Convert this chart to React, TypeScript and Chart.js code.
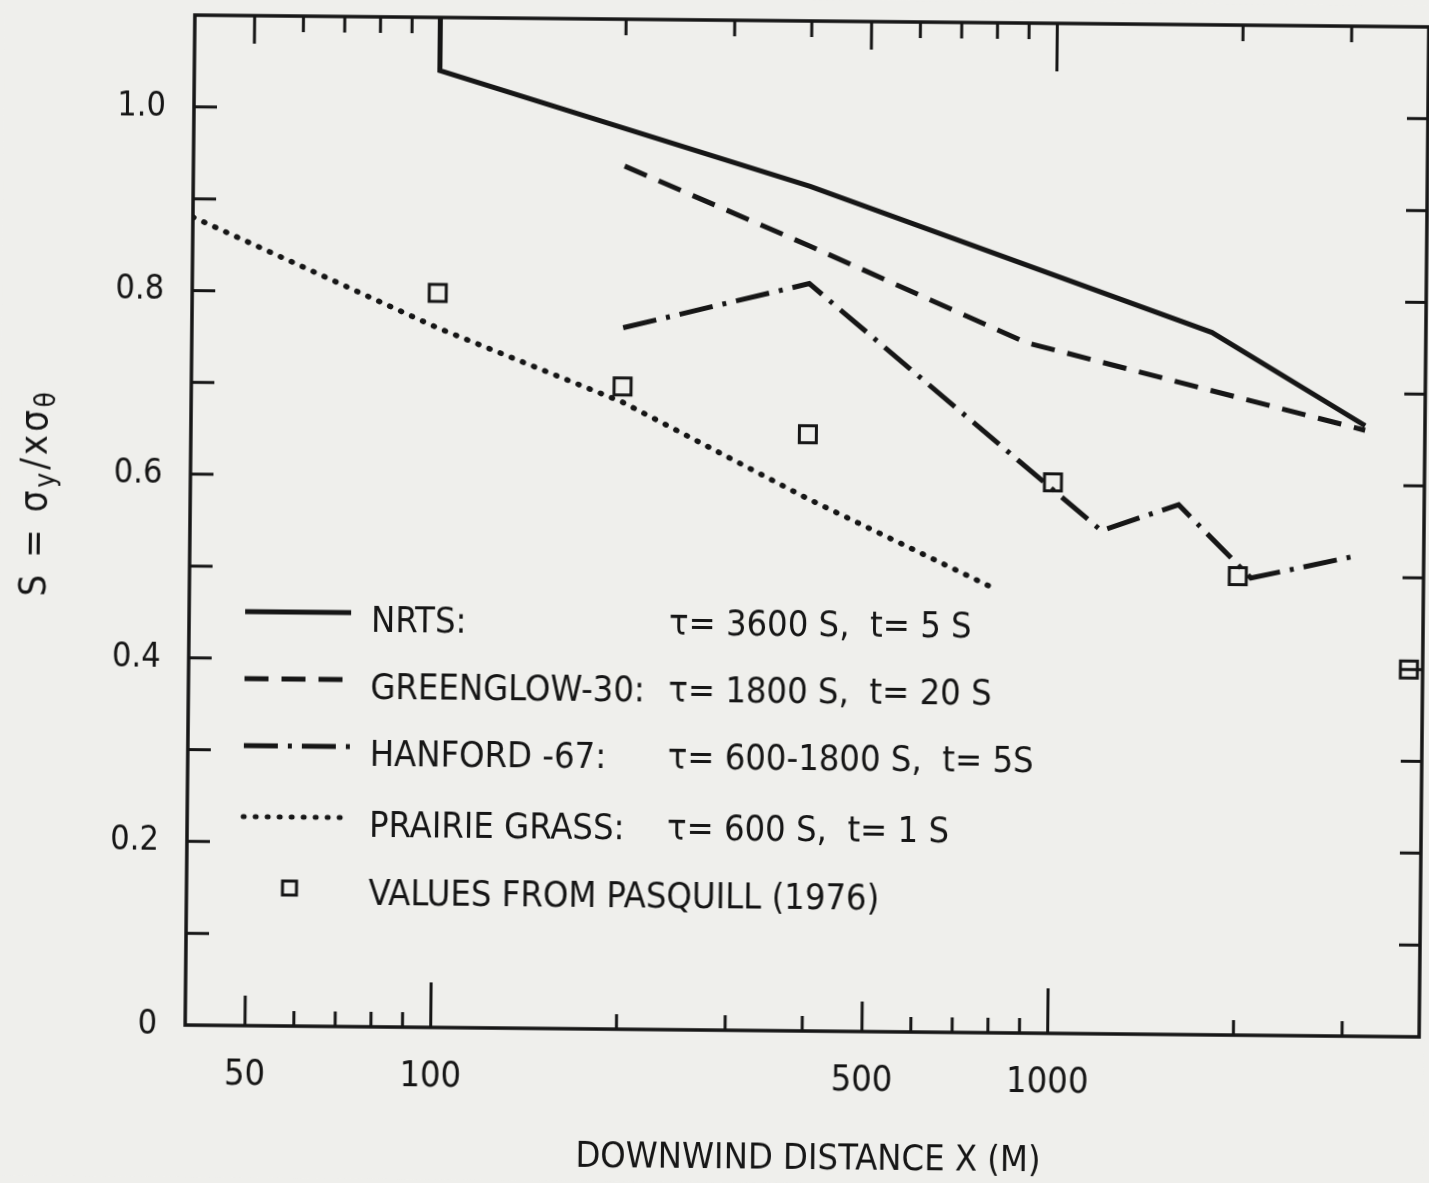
import React, { useEffect, useRef } from "react";
import { Chart, registerables } from "chart.js";

Chart.register(...registerables);

// ---------- data ----------
const xMin = 40;
const xMax = 4000;
const yMin = 0;
const yMax = 1.1;

const xTickLabels = [50, 100, 500, 1000];
const xTickMarks = [50, 60, 70, 80, 90, 100, 200, 300, 400, 500, 600, 700, 800, 900, 1000, 2000, 3000];
const yTickLabels = [0, 0.2, 0.4, 0.6, 0.8, 1.0];
const yTickMarks = [0.1, 0.2, 0.3, 0.4, 0.5, 0.6, 0.7, 0.8, 0.9, 1.0];

const nrtsX = [100, 100, 400, 1800, 3200];
const nrtsY = [1.1, 1.042, 0.92, 0.765, 0.665];

const greenglowX = [200, 400, 900, 3200];
const greenglowY = [0.94, 0.855, 0.752, 0.66];

const hanfordX = [200, 400, 1200, 1600, 2100, 3100];
const hanfordY = [0.764, 0.814, 0.548, 0.577, 0.498, 0.523];

const prairieX = [40, 100, 200, 400, 800];
const prairieY = [0.88, 0.762, 0.683, 0.58, 0.485];

const pasquillX = [100, 200, 400, 1000, 2000, 3800];
const pasquillY = [0.8, 0.7, 0.65, 0.6, 0.5, 0.4];

const legendNames = ["NRTS:", "GREENGLOW-30:", "HANFORD -67:", "PRAIRIE GRASS:", "VALUES FROM PASQUILL (1976)"];
const legendParams = ["τ= 3600 S,  t= 5 S", "τ= 1800 S,  t= 20 S", "τ= 600-1800 S,  t= 5S", "τ= 600 S,  t= 1 S", ""];

const xTitle = "DOWNWIND DISTANCE X (M)";

// ---------- style ----------
const W = 1429;
const H = 1183;
const INK = "#161616";
const PAPER = "#efefec";
const FONT = "'Liberation Sans Narrow', 'DejaVu Sans Condensed', 'Liberation Sans', sans-serif";

const DASH_SOLID: number[] = [];
const DASH_DASHED = [24, 13];
const DASH_DASHDOT = [34, 10, 4, 10];
const DASH_DOTTED = [1, 11];

const toPts = (xs: number[], ys: number[]) => xs.map((x, i) => ({ x, y: ys[i] }));

const decorPlugin = {
  id: "decor",
  beforeDraw(chart: any) {
    const { ctx, width, height } = chart;
    ctx.save();
    ctx.fillStyle = PAPER;
    ctx.fillRect(0, 0, width, height);
    ctx.restore();
  },
  afterDraw(chart: any) {
    const { ctx, chartArea: ca } = chart;
    const xs = chart.scales.x;
    const ys = chart.scales.y;
    ctx.save();
    ctx.strokeStyle = INK;
    ctx.fillStyle = INK;
    ctx.setLineDash([]);
    ctx.lineCap = "butt";

    // frame
    ctx.lineWidth = 3.5;
    ctx.strokeRect(ca.left, ca.top, ca.right - ca.left, ca.bottom - ca.top);

    // x ticks (bottom and top, inward)
    ctx.lineWidth = 3;
    xTickMarks.forEach((v) => {
      const px = xs.getPixelForValue(v);
      const big = v === 100 || v === 1000;
      const mid = v === 50 || v === 500;
      const lb = big ? 45 : mid ? 30 : 15;
      const lt = big ? 48 : mid ? 28 : 16;
      ctx.beginPath();
      ctx.moveTo(px, ca.bottom);
      ctx.lineTo(px, ca.bottom - lb);
      ctx.moveTo(px, ca.top);
      ctx.lineTo(px, ca.top + lt);
      ctx.stroke();
    });
    // y ticks (left and right, inward)
    yTickMarks.forEach((v) => {
      const py = ys.getPixelForValue(v);
      ctx.beginPath();
      ctx.moveTo(ca.left, py);
      ctx.lineTo(ca.left + 23, py);
      ctx.moveTo(ca.right, py);
      ctx.lineTo(ca.right - 21, py);
      ctx.stroke();
    });

    // x title
    ctx.font = `36px ${FONT}`;
    ctx.textAlign = "center";
    ctx.textBaseline = "alphabetic";
    ctx.fillText(xTitle, 814, 1169);

    // y title: S = σy/xσθ with subscripts
    ctx.save();
    ctx.translate(46, 500);
    ctx.rotate(-Math.PI / 2);
    (ctx as any).letterSpacing = "3px";
    const parts: [string, boolean][] = [["S = σ", false], ["y", true], ["/xσ", false], ["θ", true]];
    const big = `38px ${FONT}`;
    const small = `28px ${FONT}`;
    let total = 0;
    parts.forEach(([t, sub]) => {
      ctx.font = sub ? small : big;
      total += ctx.measureText(t).width;
    });
    let cx = -total / 2;
    ctx.textAlign = "left";
    parts.forEach(([t, sub]) => {
      ctx.font = sub ? small : big;
      ctx.fillText(t, cx, sub ? 8 : 0);
      cx += ctx.measureText(t).width;
    });
    (ctx as any).letterSpacing = "0px";
    ctx.restore();

    // legend
    const rowY = [623, 690, 757, 828, 896];
    const dashes = [DASH_SOLID, DASH_DASHED, DASH_DASHDOT, DASH_DOTTED];
    ctx.font = `36px ${FONT}`;
    ctx.textAlign = "left";
    legendNames.forEach((name, i) => {
      const y = rowY[i];
      if (i < 4) {
        ctx.save();
        ctx.setLineDash(dashes[i]);
        ctx.lineWidth = 5;
        ctx.lineCap = i === 3 ? "round" : "butt";
        ctx.beginPath();
        ctx.moveTo(246, y - 6);
        ctx.lineTo(352, y - 6);
        ctx.stroke();
        ctx.restore();
      } else {
        ctx.lineWidth = 3;
        ctx.strokeRect(286, y - 10, 14, 14);
      }
      ctx.fillText(name, 372, y + 13);
      if (legendParams[i]) ctx.fillText(legendParams[i], 670, y + 13);
    });

    ctx.restore();
  },
};

const zeroPad = (scale: any) => {
  scale.paddingTop = 0;
  scale.paddingBottom = 0;
  scale.paddingLeft = 0;
  scale.paddingRight = 0;
};

export default function App() {
  const canvasRef = useRef<HTMLCanvasElement | null>(null);

  useEffect(() => {
    document.documentElement.style.background = PAPER;
    document.body.style.background = PAPER;
    document.body.style.overflow = "hidden";
    if (!canvasRef.current) return;
    const lineDs = (label: string, xs: number[], ys: number[], dash: number[], cap: string, width: number) => ({
      type: "line" as const,
      label,
      data: toPts(xs, ys),
      borderColor: INK,
      borderWidth: width,
      borderDash: dash,
      borderCapStyle: cap,
      borderJoinStyle: "miter",
      pointRadius: 0,
      tension: 0,
      fill: false,
    });
    const chart = new Chart(canvasRef.current, {
      type: "line",
      data: {
        datasets: [
          {
            type: "scatter",
            label: "Pasquill",
            data: toPts(pasquillX, pasquillY),
            showLine: false,
            pointStyle: "rect",
            pointRadius: 12,
            pointBorderWidth: 3,
            pointBorderColor: INK,
            pointBackgroundColor: "rgba(0,0,0,0)",
            clip: false,
          } as any,
          lineDs("NRTS", nrtsX, nrtsY, DASH_SOLID, "butt", 5),
          lineDs("GREENGLOW-30", greenglowX, greenglowY, DASH_DASHED, "butt", 5),
          lineDs("HANFORD-67", hanfordX, hanfordY, DASH_DASHDOT, "butt", 5),
          lineDs("PRAIRIE GRASS", prairieX, prairieY, DASH_DOTTED, "round", 5.5),
        ],
      },
      options: {
        animation: false,
        responsive: false,
        maintainAspectRatio: false,
        devicePixelRatio: 1,
        layout: { autoPadding: false, padding: { top: 21, right: 5, left: 0, bottom: 0 } },
        plugins: { legend: { display: false }, tooltip: { enabled: false } },
        scales: {
          x: {
            type: "logarithmic",
            min: xMin,
            max: xMax,
            grid: { display: false, drawTicks: false },
            border: { display: false },
            afterBuildTicks: (scale: any) => {
              scale.ticks = xTickLabels.map((v) => ({ value: v }));
            },
            afterFit: (scale: any) => {
              scale.height = 152;
              zeroPad(scale);
            },
            ticks: {
              autoSkip: false,
              maxRotation: 0,
              padding: 28,
              color: INK,
              font: { family: FONT, size: 36 },
              callback: (v: any) => String(v),
            },
          },
          y: {
            type: "linear",
            min: yMin,
            max: yMax,
            grid: { display: false, drawTicks: false },
            border: { display: false },
            afterBuildTicks: (scale: any) => {
              scale.ticks = yTickLabels.map((v) => ({ value: v }));
            },
            afterFit: (scale: any) => {
              scale.width = 190;
              zeroPad(scale);
            },
            ticks: {
              padding: 28,
              color: INK,
              font: { family: FONT, size: 34 },
              callback: (v: any) => (Number(v) === 0 ? "0" : Number(v).toFixed(1)),
            },
          },
        },
      } as any,
      plugins: [decorPlugin as any],
    });
    return () => chart.destroy();
  }, []);

  return (
    <div
      style={{
        position: "absolute",
        left: 0,
        top: 0,
        width: W,
        height: H,
        background: PAPER,
        transform: "rotate(0.55deg)",
        transformOrigin: "807px 526px",
      }}
    >
      <canvas ref={canvasRef} width={W} height={H} style={{ display: "block", width: W, height: H }} />
    </div>
  );
}
